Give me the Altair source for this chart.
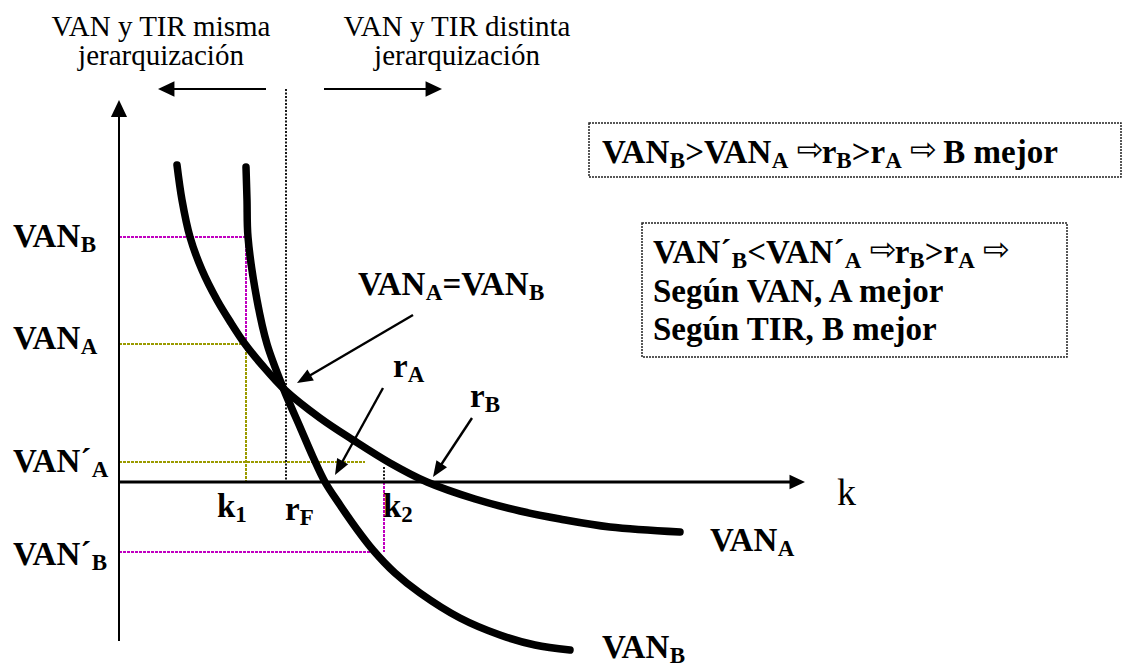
import math
import altair as alt
import pandas as pd

# ------------------------------------------------------------------
# Diagram units: k along x, VAN along y, origin where the two axes cross
# ------------------------------------------------------------------
A_k = [58, 63, 71, 83, 98, 112, 126, 143, 166, 201, 234, 271, 308, 356, 401, 441, 491, 561]
A_van = [317, 282, 245, 212, 182, 159, 138, 117, 92, 64, 42, 19, 0, -17, -29, -37, -45, -50]
B_k = [127, 128, 129, 138, 148, 165, 181, 194, 206, 221, 237, 254, 276, 301, 341, 381, 416, 451]
B_van = [315, 282, 245, 182, 138, 92, 55, 25, 0, -23, -46, -68, -91, -111, -136, -153, -163, -168]

# key values on the axes
K1, RF, K2 = 127, 167, 265
V_B, V_A, Vp_A, Vp_B = 245, 138, 20, -70
K_TOP = 393          # height of the top arrows / top of the r_F line
Y_TOP, Y_BOT = 382, -159
X_END = 686

# guide segments (x, y, x2, y2)
magenta_segs = [(0, V_B, K1, V_B), (K1, V_B, K1, V_A), (0, Vp_B, 256, Vp_B), (K2, 0, K2, Vp_B)]
olive_segs = [(0, V_A, K1, V_A), (K1, V_A, K1, 0), (0, Vp_A, 246, Vp_A)]
dotted_segs = [(RF, K_TOP, RF, 0), (K2, 15, K2, 0)]

# pointer arrows: (start k, start VAN, tip k, tip VAN)
pointers = [(294, 167, 178, 99), (264, 94, 216, 7), (353, 64, 314, 5)]
# axis / header arrows: (tail k, tail VAN, tip k, tip VAN)
axis_arrows = [(0, Y_BOT, 0, Y_TOP), (0, 0, X_END, 0)]
top_arrows = [(147, K_TOP, 39, K_TOP), (205, K_TOP, 323, K_TOP)]

# text
top_left = ["VAN y TIR misma", "jerarquización"]
top_right = ["VAN y TIR distinta", "jerarquización"]
top_center_k = [42, 338]
top_lines_v = [446, 417]

SP = (" ", "sp")
ARR = ("\u21e8", "a")
labels = [
    (-106, 235, [("VAN", "b"), ("B", "s")]),
    (-106, 133, [("VAN", "b"), ("A", "s")]),
    (-106, 10, [("VAN\u00b4", "b"), ("A", "s")]),
    (-106, -83, [("VAN\u00b4", "b"), ("B", "s")]),
    (98, -35, [("k", "b"), ("1", "s")]),
    (166, -38, [("r", "b"), ("F", "s")]),
    (264, -35, [("k", "b"), ("2", "s")]),
    (239, 187, [("VAN", "b"), ("A", "s"), ("=VAN", "b"), ("B", "s")]),
    (274, 105, [("r", "b"), ("A", "s")]),
    (351, 75, [("r", "b"), ("B", "s")]),
    (591, -69, [("VAN", "b"), ("A", "s")]),
    (483, -176, [("VAN", "b"), ("B", "s")]),
    (483, 319, [("VAN", "b"), ("B", "s"), (">VAN", "b"), ("A", "s"), SP, ARR,
                ("r", "b"), ("B", "s"), (">r", "b"), ("A", "s"), SP, ARR, SP, ("B mejor", "b")]),
    (534, 219, [("VAN\u00b4", "b"), ("B", "s"), ("<VAN\u00b4", "b"), ("A", "s"), SP, ARR,
                ("r", "b"), ("B", "s"), (">r", "b"), ("A", "s"), SP, ARR]),
    (534, 180, [("Según VAN, A mejor", "b")]),
    (534, 142, [("Según TIR, B mejor", "b")]),
]
k_label = (718, -23, "k")

# boxes (k, VAN, k2, VAN2)
boxes = [(470, 359, 1002, 305), (523, 259, 948, 125)]

# ------------------------------------------------------------------
FB, FS, FA = 33, 23, 32
ARR_ADV = 25
BOLD_W = {' ': 250, 'V': 722, 'A': 722, 'N': 722, 'B': 667, '>': 570, '<': 570, '=': 570,
          'r': 444, 'm': 833, 'e': 444, 'j': 333, 'o': 500, 'S': 556, 'g': 500, 'ú': 556,
          'n': 556, ',': 250, 'T': 667, 'I': 389, 'R': 722, '\u00b4': 333, 'F': 611,
          'k': 556, '1': 500, '2': 500}
KERN_VA = -0.11


def advance(text, kind):
    if kind == "a":
        return ARR_ADV
    size = FS if kind == "s" else FB
    w = sum(BOLD_W[c] for c in text) / 1000 * size
    if kind == "b":
        w += text.count("VA") * KERN_VA * size
    return w


rows = []
for x0, y0, pieces in labels:
    x = x0
    for text, kind in pieces:
        if kind != "sp":
            rows.append(dict(t=text, kind=kind, x=x, y=y0))
        x += advance(text, kind)
txt = pd.DataFrame(rows)

xs = alt.Scale(domain=[-111, 1010], nice=False, zero=False)
ys = alt.Scale(domain=[-186, 474], nice=False, zero=False)


def XE(f="x"):
    return alt.X(f + ":Q", scale=xs, axis=None)


def YE(f="y"):
    return alt.Y(f + ":Q", scale=ys, axis=None)


def seg_df(segs):
    return pd.DataFrame(segs, columns=["x", "y", "x2", "y2"])


def seg_layer(segs, **mk):
    return alt.Chart(seg_df(segs)).mark_rule(**mk).encode(
        x=XE(), y=YE(), x2="x2:Q", y2="y2:Q")


def shafts(arrows, back):
    out = []
    for x1, y1, x2, y2 in arrows:
        L = math.hypot(x2 - x1, y2 - y1)
        out.append((x1, y1, x2 - (x2 - x1) / L * back, y2 - (y2 - y1) / L * back))
    return out


def heads(arrows):
    out = []
    for x1, y1, x2, y2 in arrows:
        ang = math.degrees(math.atan2(x2 - x1, y2 - y1)) % 360
        out.append(dict(x=x2, y=y2, ang=ang))
    return pd.DataFrame(out)


HEAD_WIDE = "M0,0L0.95,2L-0.95,2Z"
HEAD_SLIM = "M0,0L0.8,2L-0.8,2Z"


def head_layer(arrows, shape, size):
    return alt.Chart(heads(arrows)).mark_point(
        shape=shape, filled=True, color="black", opacity=1, strokeWidth=0, size=size
    ).encode(x=XE(), y=YE(), angle=alt.Angle("ang:Q", scale=None))


curves = pd.concat([
    pd.DataFrame({"curve": "A", "i": range(len(A_k)), "x": A_k, "y": A_van}),
    pd.DataFrame({"curve": "B", "i": range(len(B_k)), "x": B_k, "y": B_van}),
])

guides = alt.layer(
    seg_layer(magenta_segs, color="#C000C0", strokeWidth=2, strokeDash=[3, 1]),
    seg_layer(olive_segs, color="#9A9A00", strokeWidth=2, strokeDash=[3, 1]),
    seg_layer(dotted_segs, color="black", strokeWidth=1.8, strokeDash=[2, 1.5]),
)

axes = alt.layer(
    seg_layer(shafts(axis_arrows[:1], 10), color="black", strokeWidth=2),
    seg_layer(shafts(axis_arrows[1:], 10), color="black", strokeWidth=3),
    seg_layer(shafts(top_arrows, 10), color="black", strokeWidth=2),
    head_layer(axis_arrows[:1], HEAD_WIDE, 289),
    head_layer(axis_arrows[1:], HEAD_WIDE, 240),
    head_layer(top_arrows, HEAD_WIDE, 270),
)

curve_layer = alt.Chart(curves).mark_line(
    color="black", strokeWidth=7.5, strokeCap="round", strokeJoin="round",
    interpolate="catmull-rom"
).encode(x=XE(), y=YE(), detail="curve:N", order="i:Q")

pointer_layer = alt.layer(
    seg_layer(shafts(pointers, 6), color="black", strokeWidth=2.4),
    head_layer(pointers, HEAD_SLIM, 250),
)

box_layer = alt.Chart(pd.DataFrame(boxes, columns=["x", "y", "x2", "y2"])).mark_rect(
    fill="white", fillOpacity=0, stroke="#222222", strokeWidth=1.5, strokeDash=[2, 1]
).encode(x=XE(), y=YE(), x2="x2:Q", y2="y2:Q")

header = pd.DataFrame([
    dict(t=t, x=top_center_k[j], y=top_lines_v[i])
    for j, lines in enumerate([top_left, top_right]) for i, t in enumerate(lines)
])
header_layer = alt.Chart(header).mark_text(
    font="Liberation Serif", fontSize=29, align="center", baseline="alphabetic", color="black"
).encode(x=XE(), y=YE(), text="t:N")

k_layer = alt.Chart(pd.DataFrame([dict(x=k_label[0], y=k_label[1], t=k_label[2])])).mark_text(
    font="Liberation Serif", fontSize=38, align="left", baseline="alphabetic", color="black"
).encode(x=XE(), y=YE(), text="t:N")

bold_layer = alt.Chart(txt[txt.kind == "b"]).mark_text(
    font="Liberation Serif", fontWeight="bold", fontSize=FB, align="left",
    baseline="alphabetic", color="black"
).encode(x=XE(), y=YE(), text="t:N")
sub_layer = alt.Chart(txt[txt.kind == "s"]).mark_text(
    font="Liberation Serif", fontWeight="bold", fontSize=FS, align="left",
    baseline="alphabetic", color="black", dy=5
).encode(x=XE(), y=YE(), text="t:N")
arr_layer = alt.Chart(txt[txt.kind == "a"]).mark_text(
    font="DejaVu Sans", fontSize=FA, align="left", baseline="alphabetic", color="black", dy=-3
).encode(x=XE(), y=YE(), text="t:N")

chart = alt.layer(
    box_layer, guides, axes, curve_layer, pointer_layer,
    header_layer, k_layer, bold_layer, sub_layer, arr_layer
).properties(
    width=1121, height=660, autosize=alt.AutoSizeParams(type="none"), padding=0
).configure_view(strokeWidth=0)

chart.save("out.html", embed_options={"renderer": "svg", "actions": False})
